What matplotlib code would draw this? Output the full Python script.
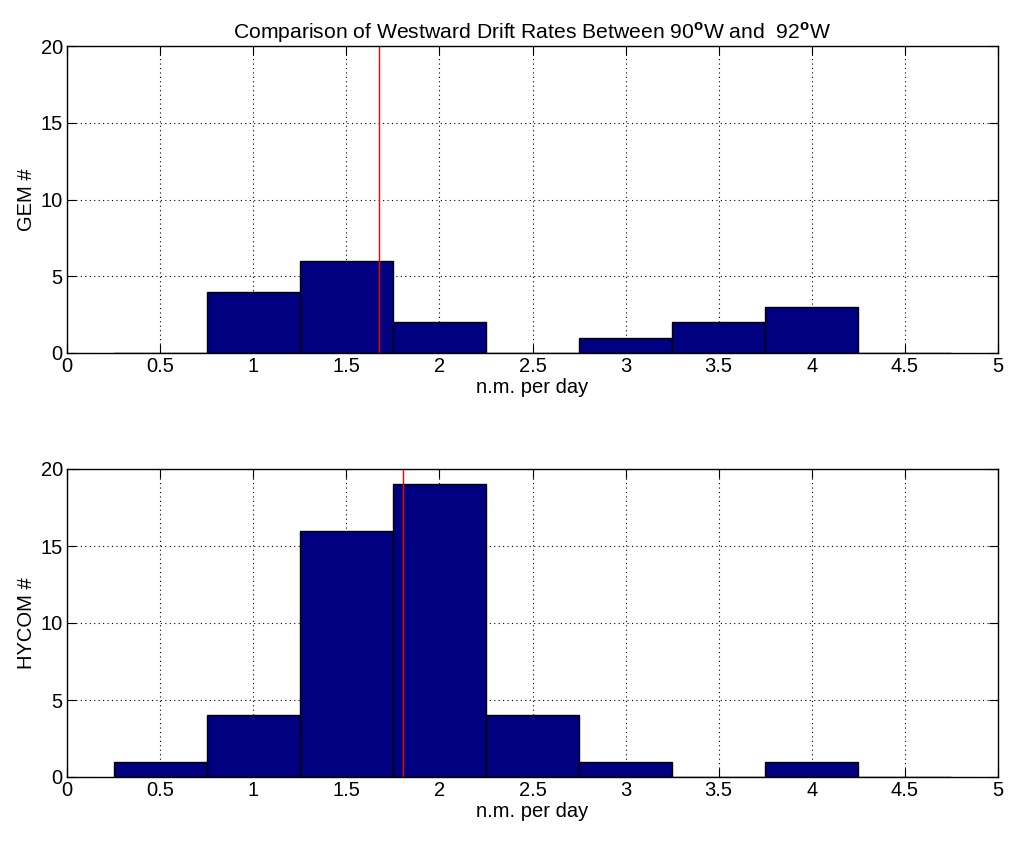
import matplotlib
matplotlib.use("Agg")
import matplotlib.pyplot as plt

plt.rcParams['font.family'] = ['Liberation Sans', 'DejaVu Sans']
plt.rcParams['mathtext.fontset'] = 'custom'
plt.rcParams['mathtext.rm'] = 'Liberation Sans'
plt.rcParams['mathtext.bf'] = 'Liberation Sans:bold'

bin_centers = [0.5, 1.0, 1.5, 2.0, 2.5, 3.0, 3.5, 4.0, 4.5]
gem_counts = [0, 4, 6, 2, 0, 1, 2, 3, 0]
hycom_counts = [1, 4, 16, 19, 4, 1, 0, 1, 0]
gem_mean = 1.674
hycom_mean = 1.803
xticks = [0, 0.5, 1, 1.5, 2, 2.5, 3, 3.5, 4, 4.5, 5]
xticklabels = ['0', '0.5', '1', '1.5', '2', '2.5', '3', '3.5', '4', '4.5', '5']
yticks = [0, 5, 10, 15, 20]
title = 'Comparison of Westward Drift Rates Between 90$^{\\mathbf{o}}$W and  92$^{\\mathbf{o}}$W'

W, H = 1009, 843
fig = plt.figure(figsize=(W / 100, H / 100), dpi=100)
FS = 14.5

def make_ax(top_px, bottom_px, counts, mean, ylabel):
    left_px, right_px = 67, 998
    ax = fig.add_axes([left_px / W, 1 - bottom_px / H,
                       (right_px - left_px) / W, (bottom_px - top_px) / H])
    ax.bar(bin_centers, counts, width=0.5, color='#000080',
           edgecolor='black', linewidth=1.0, zorder=2)
    ax.axvline(mean, color='red', linewidth=1.0, zorder=3)
    ax.set_xlim(0, 5)
    ax.set_ylim(0, 20)
    ax.set_xticks(xticks)
    ax.set_xticklabels(xticklabels)
    ax.set_yticks(yticks)
    ax.grid(True, linestyle=(0, (1, 3)), color='black', linewidth=0.8, zorder=0)
    ax.set_axisbelow(True)
    ax.tick_params(direction='in', length=6.5, width=0.8, top=True, right=True,
                   labelsize=FS, pad=3)
    for s in ax.spines.values():
        s.set_linewidth(1.0)
        s.set_zorder(4)
    ax.set_xlabel('n.m. per day', fontsize=FS, labelpad=1)
    ax.set_ylabel(ylabel, fontsize=FS, labelpad=3)
    return ax

ax1 = make_ax(46, 353, gem_counts, gem_mean, 'GEM #')
ax2 = make_ax(469, 777, hycom_counts, hycom_mean, 'HYCOM #')
ax1.set_title(title, fontsize=15.2, pad=5)

fig.savefig('out.png', dpi=100, facecolor='white')
